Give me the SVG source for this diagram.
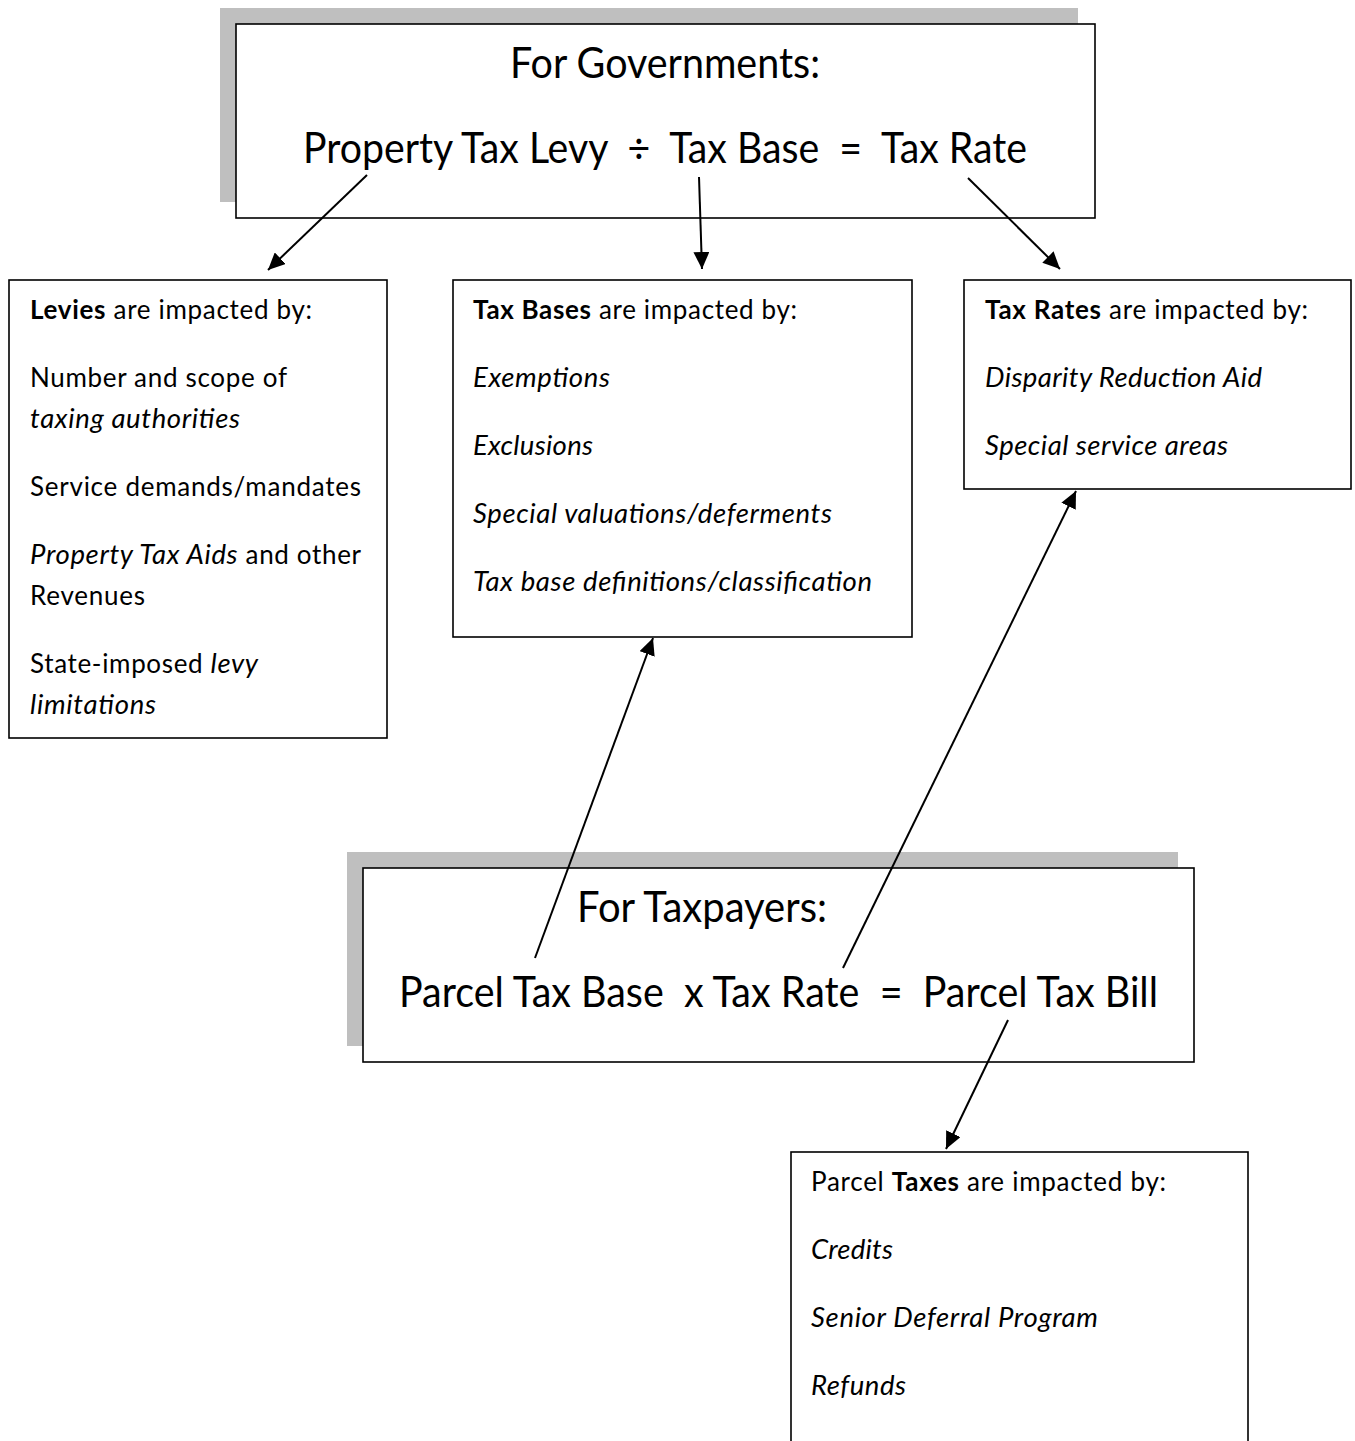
<svg xmlns="http://www.w3.org/2000/svg" width="1355" height="1441" viewBox="0 0 1355 1441">
<style>
  .shadow { fill: #bfbfbf; stroke: none; }
  .box { fill: #ffffff; stroke: #000000; stroke-width: 1.6; }
  .head { font-family: Lato, "Open Sans", "Liberation Sans", sans-serif; font-size: 42px; fill: #000; }
  .body { font-family: Lato, "Open Sans", "Liberation Sans", sans-serif; font-size: 26px; fill: #000; }
  .b { font-weight: bold; }
  .i { font-style: italic; font-size: 27.5px; }
  .conn { stroke: #000; stroke-width: 2; fill: none; marker-end: url(#arrow); }
</style>
<defs>
  <marker id="arrow" markerUnits="userSpaceOnUse" markerWidth="18" markerHeight="16" refX="17" refY="8" orient="auto">
    <path d="M0,0 L17,8 L0,16 Z" fill="#000"/>
  </marker>
</defs>
<rect width="1355" height="1441" fill="#ffffff"/>

<g id="governments">
  <rect class="shadow" x="220" y="8" width="858" height="194"/>
  <rect class="box" x="236" y="24" width="859" height="194"/>
  <text class="head" x="510" y="78" textLength="310" lengthAdjust="spacingAndGlyphs">For Governments:</text>
  <text class="head" x="303" y="163" textLength="724" lengthAdjust="spacingAndGlyphs" xml:space="preserve">Property Tax Levy  ÷  Tax Base  =  Tax Rate</text>
</g>

<g id="levies">
  <rect class="box" x="9" y="280" width="378" height="458"/>
  <text class="body" x="30" y="319" textLength="282"><tspan class="b">Levies</tspan> are impacted by:</text>
  <text class="body" x="30" y="387" textLength="257">Number and scope of</text>
  <text class="body i" x="30" y="428" textLength="210">taxing authorities</text>
  <text class="body" x="30" y="496" textLength="331">Service demands/mandates</text>
  <text class="body" x="30" y="564" textLength="331"><tspan class="i">Property Tax Aids</tspan> and other</text>
  <text class="body" x="30" y="605" textLength="115">Revenues</text>
  <text class="body" x="30" y="673" textLength="228">State-imposed <tspan class="i">levy</tspan></text>
  <text class="body i" x="30" y="714" textLength="126">limitations</text>
</g>

<g id="taxbases">
  <rect class="box" x="453" y="280" width="459" height="357"/>
  <text class="body" x="473" y="319" textLength="324"><tspan class="b">Tax Bases</tspan> are impacted by:</text>
  <text class="body i" x="473" y="387" textLength="137">Exemptions</text>
  <text class="body i" x="473" y="455" textLength="120">Exclusions</text>
  <text class="body i" x="473" y="523" textLength="359">Special valuations/deferments</text>
  <text class="body i" x="473" y="591" textLength="399">Tax base definitions/classification</text>
</g>

<g id="taxrates">
  <rect class="box" x="964" y="280" width="387" height="209"/>
  <text class="body" x="985" y="319" textLength="323"><tspan class="b">Tax Rates</tspan> are impacted by:</text>
  <text class="body i" x="985" y="387" textLength="277">Disparity Reduction Aid</text>
  <text class="body i" x="985" y="455" textLength="243">Special service areas</text>
</g>

<g id="taxpayers">
  <rect class="shadow" x="347" y="852" width="831" height="194"/>
  <rect class="box" x="363" y="868" width="831" height="194"/>
  <text class="head" x="577" y="922" textLength="250" lengthAdjust="spacingAndGlyphs">For Taxpayers:</text>
  <text class="head" x="399" y="1007" textLength="759" lengthAdjust="spacingAndGlyphs" xml:space="preserve">Parcel Tax Base  x Tax Rate  =  Parcel Tax Bill</text>
</g>

<g id="parceltaxes">
  <rect class="box" x="791" y="1152" width="457" height="320"/>
  <text class="body" x="811" y="1191" textLength="355">Parcel <tspan class="b">Taxes</tspan> are impacted by:</text>
  <text class="body i" x="811" y="1259" textLength="82">Credits</text>
  <text class="body i" x="811" y="1327" textLength="287">Senior Deferral Program</text>
  <text class="body i" x="811" y="1395" textLength="95">Refunds</text>
</g>

<g id="connectors">
  <line class="conn" x1="367" y1="175" x2="268" y2="270"/>
  <line class="conn" x1="699" y1="177" x2="702" y2="269"/>
  <line class="conn" x1="968" y1="178" x2="1060" y2="269"/>
  <line class="conn" x1="535" y1="958" x2="653" y2="638"/>
  <line class="conn" x1="843" y1="968" x2="1076" y2="491"/>
  <line class="conn" x1="1008" y1="1020" x2="946" y2="1149"/>
</g>
</svg>
